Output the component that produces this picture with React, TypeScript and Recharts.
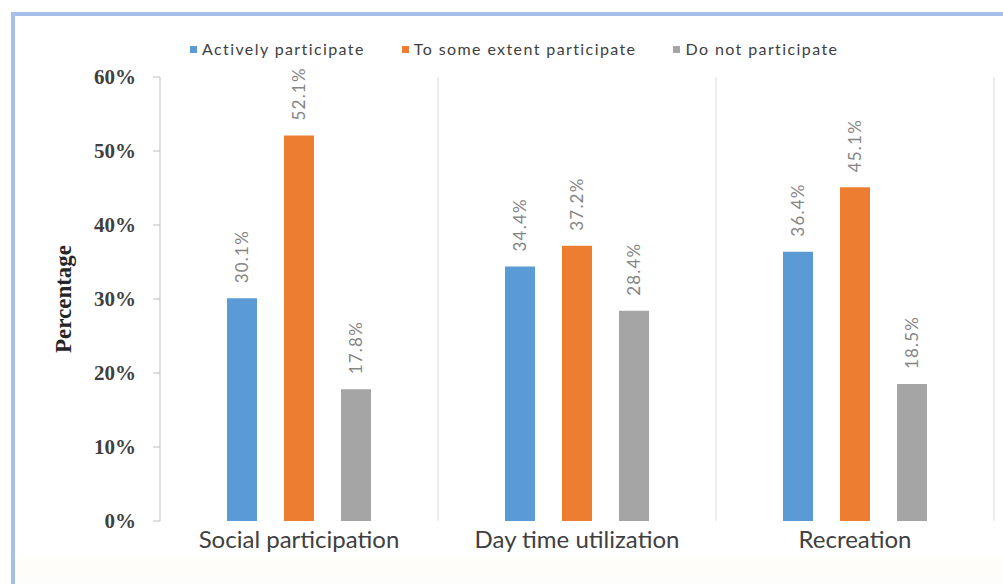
import React from 'react';
import { BarChart, Bar, XAxis, YAxis, LabelList, ReferenceLine, Legend } from 'recharts';

// Participation by activity domain (%)
const categories = ['Social participation', 'Day time utilization', 'Recreation'];
const activelyParticipate = [30.1, 34.4, 36.4];
const toSomeExtentParticipate = [52.1, 37.2, 45.1];
const doNotParticipate = [17.8, 28.4, 18.5];

const percentTicks = [0, 10, 20, 30, 40, 50, 60];
const seriesKeys = ['active', 'partial', 'none'];
const seriesNames = ['Actively participate', 'To some extent participate', 'Do not participate'];
const seriesColors = ['#5b9bd5', '#ed7d31', '#a5a5a5'];
// separators drawn on the boundaries between category bands
const categoryBoundaries = [1, 2, 3];

const data = categories.map((name, i) => ({
  name,
  slot: i + 0.5,
  active: activelyParticipate[i],
  partial: toSomeExtentParticipate[i],
  none: doNotParticipate[i],
}));

const SANS = 'Lato, "Open Sans", sans-serif';
const SERIF = '"Liberation Serif", "DejaVu Serif", serif';

const ValueLabel = (props: any) => {
  const { x, y, width, value } = props;
  const cx = Number(x) + Number(width) / 2;
  const ty = Number(y) - 15;
  return (
    <text
      x={cx}
      y={ty}
      transform={`rotate(-90 ${cx} ${ty})`}
      textAnchor="start"
      dominantBaseline="central"
      fill="#858585"
      fontSize={17}
      letterSpacing={1.2}
      fontFamily={SANS}
    >
      {Number(value).toFixed(1)}%
    </text>
  );
};

const LegendContent = () => (
  <div style={{ display: 'flex', alignItems: 'center', paddingLeft: 190, fontFamily: SANS }}>
    {seriesNames.map((n, i) => (
      <div key={n} style={{ display: 'flex', alignItems: 'center', marginRight: 37 }}>
        <span style={{ width: 7, height: 7, background: seriesColors[i], marginRight: 5, display: 'inline-block' }} />
        <span style={{ fontSize: 16, letterSpacing: 1.4, color: '#404040', lineHeight: '18px' }}>{n}</span>
      </div>
    ))}
  </div>
);

const AxisTitle = (props: any) => {
  const vb = props.viewBox || {};
  const cx = (vb.x || 0) + 63;
  const cy = (vb.y || 0) + (vb.height || 0) / 2;
  return (
    <text
      x={cx}
      y={cy}
      transform={`rotate(-90 ${cx} ${cy})`}
      textAnchor="middle"
      dominantBaseline="central"
      fill="#262626"
      fontSize={23}
      fontWeight="bold"
      fontFamily={SERIF}
    >
      Percentage
    </text>
  );
};

export default function App() {
  return (
    <div style={{ position: 'fixed', left: 0, top: 0, width: 1003, height: 584, background: '#ffffff', overflow: 'hidden' }}>
      <div
        style={{
          position: 'absolute',
          left: 11,
          top: 12,
          width: 1100,
          height: 700,
          borderTop: '4px solid #a6bfe8',
          borderLeft: '4px solid #a6bfe8',
          background: 'linear-gradient(to bottom, #ffffff 0px, #ffffff 540px, #fffdf8 545px, #fbfdff 584px)',
        }}
      />
      <div style={{ position: 'absolute', left: 0, top: 0 }}>
        <BarChart
          width={1003}
          height={584}
          data={data}
          margin={{ top: 77, right: 9, bottom: 0, left: 0 }}
          barSize={30}
          barGap={27}
        >
          <XAxis
            dataKey="name"
            height={63}
            axisLine={false}
            tickLine={false}
            tickSize={0}
            tickMargin={10}
            tick={{ fill: '#404040', fontSize: 24, fontFamily: SANS }}
            interval={0}
          />
          <XAxis xAxisId="sep" dataKey="slot" type="number" domain={[0, 3]} hide allowDataOverflow />
          <YAxis
            width={160}
            domain={[0, 60]}
            ticks={percentTicks}
            interval={0}
            tickFormatter={(v: number) => `${v}%`}
            axisLine={{ stroke: '#bfbfbf' }}
            tickLine={{ stroke: '#bfbfbf' }}
            tickSize={7}
            tickMargin={17}
            tick={{ fill: '#404040', fontSize: 21, fontWeight: 'bold', fontFamily: SERIF }}
            label={<AxisTitle />}
          />
          {categoryBoundaries.map((b) => (
            <ReferenceLine key={b} xAxisId="sep" x={b} stroke="#d9d9d9" strokeWidth={1} />
          ))}
          <Legend
            verticalAlign="middle"
            wrapperStyle={{ top: 40, left: 0, width: 1003 }}
            content={<LegendContent />}
          />
          {seriesKeys.map((k, i) => (
            <Bar key={k} dataKey={k} name={seriesNames[i]} fill={seriesColors[i]} isAnimationActive={false}>
              <LabelList dataKey={k} content={<ValueLabel />} />
            </Bar>
          ))}
        </BarChart>
      </div>
    </div>
  );
}
